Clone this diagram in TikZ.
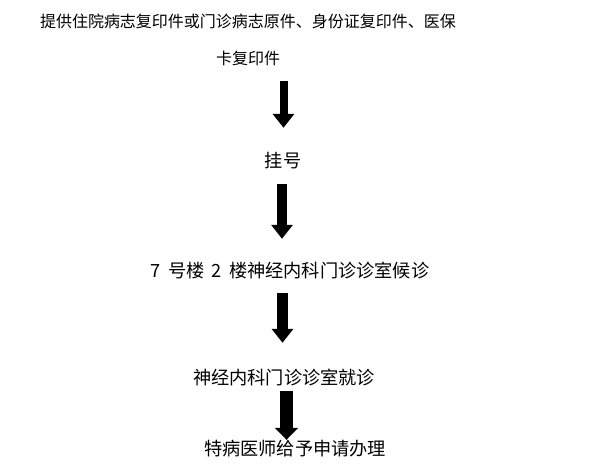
\documentclass[tikz,border=0pt]{standalone}
\usepackage{fontspec}
\newfontfamily\cjk{Noto Sans CJK SC}
\usepackage{tikz}
\usetikzlibrary{
	arrows.meta,
	positioning,
	calc
}

\begin{document}
\begin{tikzpicture}[
				x=1pt, y=1pt,
				steptext/.style={
					inner sep=0pt,
					text height=0.8em, text depth=0.2em,
					font=\cjk\fontsize{18.2}{22}\selectfont
				},
				doctext/.style={
					steptext, font=\cjk\fontsize{16}{20}\selectfont
				},
				bigarrow/.style={
					line width=10pt, -{Triangle[width=21pt,length=14pt]}
				},
				]
				\path[use as bounding box, fill=white] (0,0) rectangle (600,466);
				
				\coordinate (col) at (283,0);
				
				%documents
				\node (docs) at (248,441.5) [doctext] {提供住院病志复印件或门诊病志原件、身份证复印件、医保};
				\node (card) at (248,404.5) [doctext] {卡复印件};
				
				%register
				\node (reg) at (283,301) [steptext] {挂号};
				\draw [bigarrow, line width=8pt, shorten <=14pt, shorten >=32pt] ([xshift=0.5pt]card.south -| col) -- ([xshift=0.5pt]reg.north -| col);
				
				%waiting
				\node (wait) at (290,191) [steptext] {7\hspace{0.4em}号楼\hspace{0.4em}2\hspace{0.4em}楼神经内科门诊诊室候诊};
				\draw [bigarrow, shorten <=14pt, shorten >=31pt] ([xshift=-1pt]reg.south -| col) -- ([xshift=-1pt]wait.north -| col);
				
				%visit
				\node (visit) at (284,84) [steptext] {神经内科门诊诊室就诊};
				\draw [bigarrow, line width=11pt, shorten <=13pt, shorten >=34pt] ([xshift=-0.5pt]wait.south -| col) -- ([xshift=-0.5pt]visit.north -| col);
				
				%apply
				\node (apply) at (295,13) [steptext] {特病医师给予申请办理};
				\draw [bigarrow, line width=13pt, -{Triangle[width=23pt,length=12pt]}, shorten <=4pt, shorten >=8pt] ([xshift=3.5pt]visit.south -| col) -- ([xshift=3.5pt]apply.north -| col);
			\end{tikzpicture}
\end{document}
